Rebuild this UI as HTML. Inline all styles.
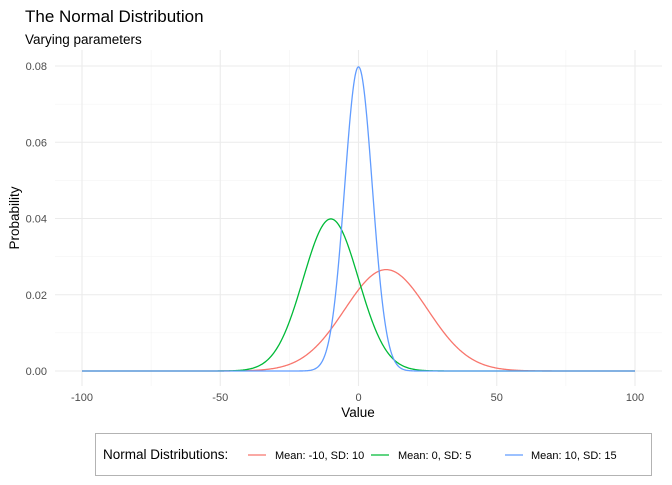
<!DOCTYPE html>
<html><head><meta charset="utf-8"><style>
body{margin:0;background:#fff}
svg{font-family:"Liberation Sans",sans-serif}
</style></head><body>
<svg id="chart" width="672" height="480" viewBox="0 0 672 480">
<text x="25" y="22" font-size="17" fill="#000">The Normal Distribution</text>
<text x="25" y="44" font-size="13.5" fill="#000">Varying parameters</text>
<g id="grid"></g>
<g id="axes"></g>
<g id="lines"></g>
<text x="358" y="417" font-size="13.5" text-anchor="middle">Value</text>
<text transform="translate(19,218) rotate(-90)" font-size="13.5" text-anchor="middle">Probability</text>
<g>
<rect x="95.5" y="433.5" width="556" height="42" fill="#fff" stroke="#b3b3b3"/>
<text x="103" y="459" font-size="13.5">Normal Distributions:</text>
<g><line x1="248" x2="266" y1="455" y2="455" stroke="#F8766D" stroke-width="1.3"/><text x="275" y="459" font-size="11">Mean: -10, SD: 10</text></g>
<g><line x1="371" x2="389" y1="455" y2="455" stroke="#00BA38" stroke-width="1.3"/><text x="398" y="459" font-size="11">Mean: 0, SD: 5</text></g>
<g><line x1="505" x2="523" y1="455" y2="455" stroke="#619CFF" stroke-width="1.3"/><text x="531" y="459" font-size="11">Mean: 10, SD: 15</text></g>
</g>
</svg>
<script>
const seriesNames = ["Mean: -10, SD: 10","Mean: 0, SD: 5","Mean: 10, SD: 15"];
const seriesMeans = [10, -10, 0];
const seriesSDs = [15, 10, 5];
const seriesColors = ["#F8766D","#00BA38","#619CFF"];
const xTicks = [-100,-50,0,50,100];
const xMinor = [-75,-25,25,75];
const yTicks = [0,0.02,0.04,0.06,0.08];
const yTickLabels = ["0.00","0.02","0.04","0.06","0.08"];
const yMinor = [0.01,0.03,0.05,0.07];
const xDomain = [-100,100];

const NS="http://www.w3.org/2000/svg";
const X=v=>82+(v+100)*(635-82)/200;
const Y=v=>371-v*(371-66)/0.08;
const P={l:55,r:662,t:50,b:386};
function mk(t,a,p){const e=document.createElementNS(NS,t);for(const k in a)e.setAttribute(k,a[k]);p.appendChild(e);return e;}
const grid=document.getElementById('grid'),axes=document.getElementById('axes'),lines=document.getElementById('lines');
xMinor.forEach(v=>{const e=mk('line',{x1:X(v),x2:X(v),y1:P.t,y2:P.b,stroke:'#f2f2f2','stroke-width':0.6},grid);

});
yMinor.forEach(v=>{const e=mk('line',{x1:P.l,x2:P.r,y1:Y(v),y2:Y(v),stroke:'#f2f2f2','stroke-width':0.6},grid);

});
xTicks.forEach(v=>{const e=mk('line',{x1:X(v),x2:X(v),y1:P.t,y2:P.b,stroke:'#ebebeb','stroke-width':1.1},grid);


const t=mk('text',{x:X(v),y:401,'font-size':11,'text-anchor':'middle',fill:'#4d4d4d'},axes);t.textContent=v;

});
yTicks.forEach((v,i)=>{const e=mk('line',{x1:P.l,x2:P.r,y1:Y(v),y2:Y(v),stroke:'#ebebeb','stroke-width':1.1},grid);


const t=mk('text',{x:47,y:Y(v)+4,'font-size':11,'text-anchor':'end',fill:'#4d4d4d'},axes);t.textContent=yTickLabels[i];

});
seriesMeans.forEach((m,i)=>{const s=seriesSDs[i];let d='';
for(let k=0;k<=800;k++){const x=xDomain[0]+(xDomain[1]-xDomain[0])*k/800;
const y=Math.exp(-0.5*((x-m)/s)**2)/(s*Math.sqrt(2*Math.PI));
d+=(k?'L':'M')+X(x).toFixed(2)+','+Y(y).toFixed(2);}
const p=mk('path',{d:d,fill:'none',stroke:seriesColors[i],'stroke-width':1.3},lines);

});
</script>
</body></html>
